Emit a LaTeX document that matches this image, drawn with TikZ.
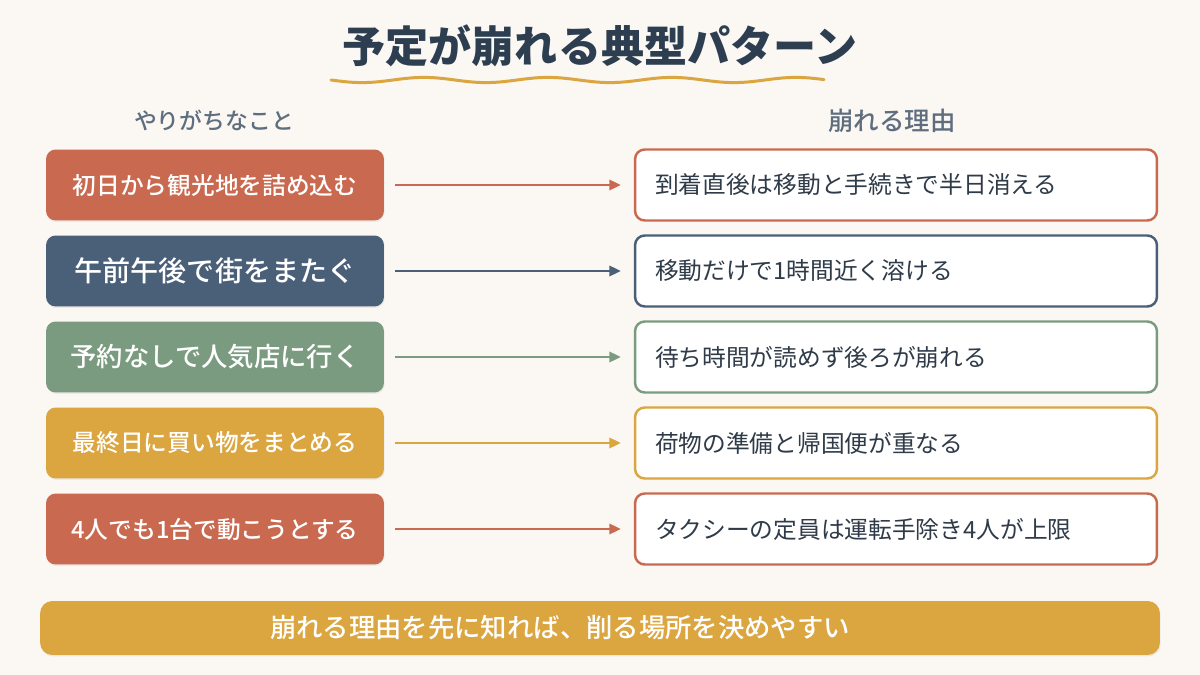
\documentclass[tikz,border=0pt]{standalone}
\usepackage{fontspec}
\setmainfont{Noto Sans CJK JP}
\newfontfamily\medfont{Noto Sans CJK JP Medium}
\usepackage{xcolor}
\usepackage{tikz}
\usetikzlibrary{calc,arrows.meta,positioning,shapes,shadows}

\definecolor{cream}{HTML}{FBF7F2}
\definecolor{ink}{HTML}{2C3E50}
\definecolor{bodyink}{HTML}{2F3B48}
\definecolor{headgray}{HTML}{5E6E7E}
\definecolor{terra}{HTML}{C96A50}
\definecolor{slate}{HTML}{4A5F78}
\definecolor{sage}{HTML}{7A9B80}
\definecolor{mustard}{HTML}{DBA540}

\begin{document}
\begin{tikzpicture}[x=0.02cm,y=-0.02cm,every node/.style={font=\medfont},
          doit/.style={rounded corners=5.5pt,minimum width=6.76cm,minimum height=1.42cm,inner sep=0pt,text=white,
            drop shadow={opacity=0.12,shadow xshift=0.4pt,shadow yshift=-0.8pt}},
          why/.style={draw,line width=1.4pt,fill=white,rounded corners=5.5pt,text width=9.64cm,inner xsep=0.4cm,
            minimum height=1.42cm,align=left,text=bodyink,font=\fontsize{13.5}{16}\selectfont},
          head/.style={text=headgray},
          link/.style={-{Triangle[length=2.3mm,width=2.1mm]},line width=1.1pt,shorten <=0.22cm,shorten >=0.26cm}]
        \fill[cream] (0,0) rectangle (1200,675);
        % title and wavy rule
        \node[text=ink,font=\bfseries\fontsize{24.5}{28}\selectfont] (title) at (600,46) {予定が崩れる典型パターン};
        \draw[mustard,line width=1.7pt,line cap=round] plot[domain=0:493,samples=120] ({331+\x},{80+2.6*sin(\x*2.9032)});
        \node[head,font=\medfont\fontsize{13}{15}\selectfont] (hl) at (214,121) {やりがちなこと};
        \node[head,font=\medfont\fontsize{14.5}{17}\selectfont] (hr) at (892,121) {崩れる理由};
        % left column
        \node[doit,fill=terra,font=\medfont\fontsize{13.5}{16}\selectfont] (d1) at (215,185) {初日から観光地を詰め込む};
        \node[doit,fill=slate,font=\medfont\fontsize{16}{19}\selectfont] (d2) at (215,271) {午前午後で街をまたぐ};
        \node[doit,fill=sage,font=\medfont\fontsize{15}{18}\selectfont] (d3) at (215,357) {予約なしで人気店に行く};
        \node[doit,fill=mustard,font=\medfont\fontsize{13.5}{16}\selectfont] (d4) at (215,443) {最終日に買い物をまとめる};
        \node[doit,fill=terra,font=\medfont\fontsize{13.5}{16}\selectfont] (d5) at (215,529) {4人でも1台で動こうとする};
        % right column
        \node[why,draw=terra] (w1) at (896,185) {到着直後は移動と手続きで半日消える};
        \node[why,draw=slate] (w2) at (896,271) {移動だけで1時間近く溶ける};
        \node[why,draw=sage] (w3) at (896,357) {待ち時間が読めず後ろが崩れる};
        \node[why,draw=mustard] (w4) at (896,443) {荷物の準備と帰国便が重なる};
        \node[why,draw=terra] (w5) at (896,529) {タクシーの定員は運転手除き4人が上限};
        \draw[link,terra] (d1)--(w1);
        \draw[link,slate] (d2)--(w2);
        \draw[link,sage] (d3)--(w3);
        \draw[link,mustard] (d4)--(w4);
        \draw[link,terra] (d5)--(w5);
        % bottom banner
        \node[fill=mustard,rounded corners=7pt,minimum width=22.4cm,minimum height=1.08cm,inner sep=0pt,
          drop shadow={opacity=0.12,shadow xshift=0.4pt,shadow yshift=-0.8pt}] (bar) at (600,628) {};
        \node[text=white,font=\medfont\fontsize{15}{18}\selectfont] (tip) at (560,628) {崩れる理由を先に知れば、削る場所を決めやすい};
      \end{tikzpicture}
\end{document}
